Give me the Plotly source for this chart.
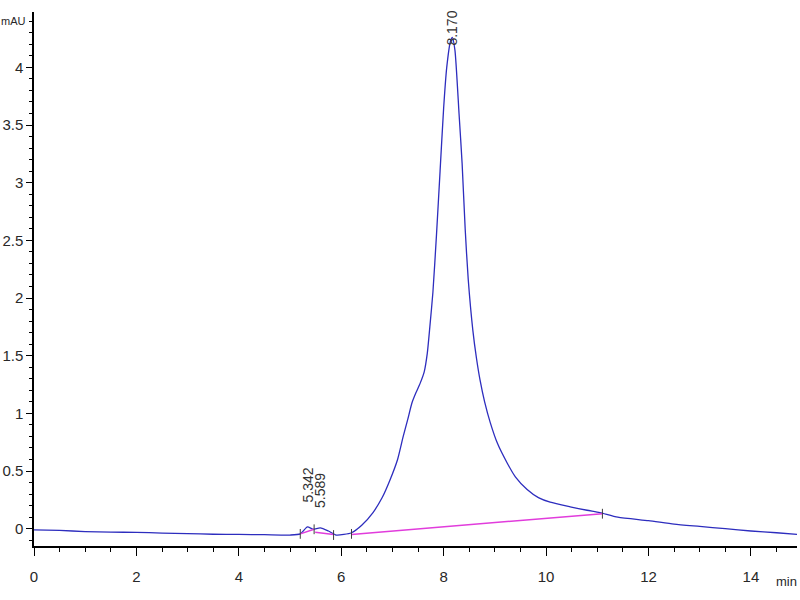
import plotly.graph_objects as go

# Chromatogram trace (time in min, signal in mAU)
time_min = [0, 0.5, 1, 1.5, 2, 2.5, 3, 3.5, 4, 4.5, 5.0, 5.2, 5.34, 5.45, 5.59, 5.75, 5.9,
            6.05, 6.2, 6.4, 6.62, 6.8, 6.95, 7.1, 7.21, 7.3, 7.38, 7.46, 7.54, 7.62, 7.68,
            7.73, 7.79, 7.86, 7.93, 8.0, 8.06, 8.13, 8.17, 8.22, 8.3, 8.36, 8.42, 8.48,
            8.57, 8.64, 8.71, 8.8, 8.91, 9.05, 9.24, 9.4, 9.63, 9.85, 10.08, 10.47, 10.8,
            11.05, 11.4, 12.0, 12.5, 13.0, 13.5, 14.0, 14.5, 14.9]
signal_mau = [-0.01, -0.015, -0.025, -0.03, -0.032, -0.038, -0.042, -0.048, -0.05, -0.052,
              -0.055, -0.045, 0.015, -0.005, 0.008, -0.02, -0.055, -0.05, -0.035, 0.03,
              0.14, 0.27, 0.42, 0.6, 0.8, 0.95, 1.09, 1.18, 1.26, 1.36, 1.52, 1.75, 2.05,
              2.55, 3.1, 3.65, 4.0, 4.22, 4.26, 4.15, 3.6, 3.17, 2.6, 2.16, 1.72, 1.48,
              1.29, 1.1, 0.92, 0.74, 0.57, 0.45, 0.34, 0.27, 0.23, 0.19, 0.16, 0.14, 0.1,
              0.07, 0.04, 0.02, 0.0, -0.02, -0.035, -0.05]

# Integration baselines
base_main_x = [6.2, 11.1]
base_main_y = [-0.05, 0.13]
base_small1_x = [5.2, 5.47]
base_small1_y = [-0.045, -0.005]
base_small2_x = [5.49, 5.85]
base_small2_y = [-0.03, -0.05]

# Peak start/end marks
mark_x = [5.2, 5.47, 5.85, 6.2, 11.1]
mark_y = [-0.045, -0.005, -0.055, -0.045, 0.13]

# Peak labels
peak_times = [5.342, 5.589, 8.170]
peak_label_y = [0.21, 0.16, 4.17]
peak_labels = ["5.342", "5.589", "8.170"]

blue = "rgb(45,45,190)"
magenta = "rgb(225,60,220)"
font_fam = "Liberation Sans Narrow, Arial Narrow, Liberation Sans, Arial"

fig = go.Figure()
fig.add_trace(go.Scatter(x=time_min, y=signal_mau, mode="lines",
                         line=dict(color=blue, width=1.3, shape="spline", smoothing=0.6)))
for bx, by in [(base_main_x, base_main_y), (base_small1_x, base_small1_y),
               (base_small2_x, base_small2_y)]:
    fig.add_trace(go.Scatter(x=bx, y=by, mode="lines", line=dict(color=magenta, width=1.5)))
fig.add_trace(go.Scatter(x=mark_x, y=mark_y, mode="markers",
                         marker=dict(symbol="line-ns", size=7,
                                     line=dict(color="rgb(60,60,60)", width=1))))

for t, yy, lab in zip(peak_times, peak_label_y, peak_labels):
    fig.add_annotation(x=t, y=yy, text=lab, textangle=-90, showarrow=False,
                       xanchor="center", yanchor="bottom",
                       font=dict(family=font_fam, size=14, color="rgb(50,50,50)"))

fig.add_annotation(x=0, y=1.0, xref="paper", yref="paper", xshift=-35, yshift=-1,
                   text="mAU", showarrow=False, xanchor="left", yanchor="top",
                   font=dict(family=font_fam, size=11, color="rgb(40,40,40)"))
fig.add_annotation(x=1.0, y=0, xref="paper", yref="paper", xshift=2, yshift=-26,
                   text="min", showarrow=False, xanchor="right", yanchor="top",
                   font=dict(family=font_fam, size=13, color="rgb(40,40,40)"))

fig.update_layout(
    width=800, height=600,
    margin=dict(l=34, r=3, t=12, b=54, autoexpand=False),
    paper_bgcolor="white", plot_bgcolor="white",
    showlegend=False,
    font=dict(family=font_fam, size=15, color="rgb(40,40,40)"),
)
fig.update_xaxes(range=[0, 14.9], showgrid=False, zeroline=False, automargin=False,
                 showline=True, linecolor="black", linewidth=1.5,
                 ticks="outside", ticklen=8, tickwidth=1, tickcolor="black",
                 tick0=0, dtick=2, ticklabelstandoff=8,
                 minor=dict(ticks="outside", ticklen=4, dtick=0.5, tickcolor="black", showgrid=False))
fig.update_yaxes(range=[-0.15, 4.48], showgrid=False, zeroline=False, automargin=False,
                 showline=True, linecolor="black", linewidth=1.5,
                 ticks="outside", ticklen=6, tickwidth=1, tickcolor="black",
                 tick0=0, dtick=0.5,
                 minor=dict(ticks="outside", ticklen=3, dtick=0.1, tickcolor="black", showgrid=False))

fig.write_html("out.html", config={"displayModeBar": False},
               post_script="document.body.style.margin='0';document.body.style.overflow='hidden';")
